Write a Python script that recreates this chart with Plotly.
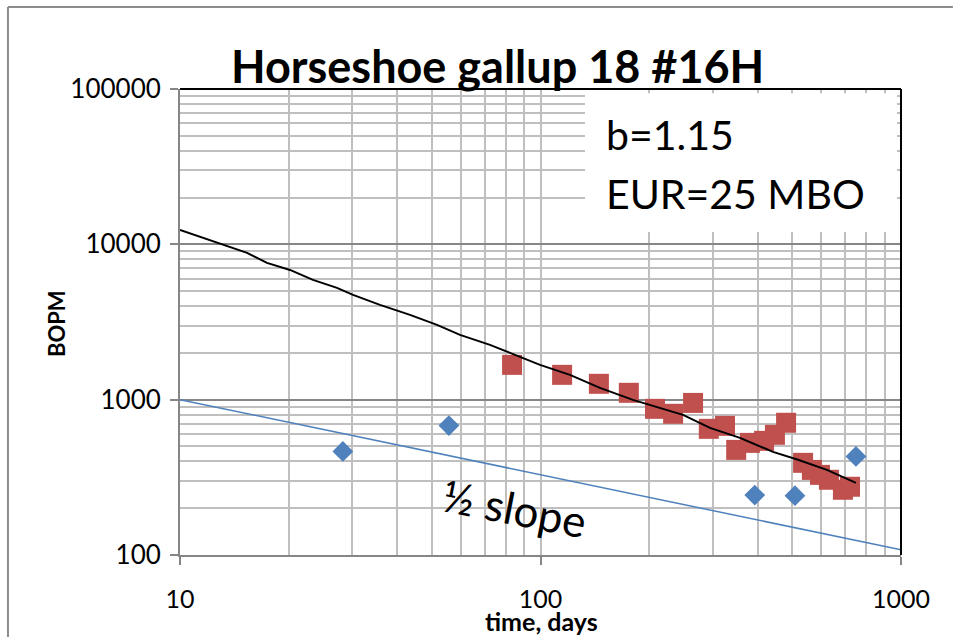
import plotly.graph_objects as go

# ---- data ----
prod_days = [83.4, 114.8, 145.2, 175.8, 207.8, 233.3, 265, 293, 325, 349, 381, 417, 447, 480,
             535, 566, 596, 631, 690, 722]
prod_bopm = [1675, 1445, 1265, 1107, 873, 811, 953, 649, 678, 475, 527, 543, 594, 710,
             392, 353, 328, 305, 263, 275]

other_days = [28.3, 55.7, 393, 508, 750]
other_bopm = [464, 681, 243, 241, 431]

fit_days = [10, 13.16, 15.35, 17.43, 20.19, 23.38, 27.26, 30.2, 35.87, 43.45, 51.64, 59.8,
            72.42, 82.31, 99.7, 120.7, 146.2, 180.5, 248.5, 295.3, 357.5, 441.6, 518, 623, 750]
fit_bopm = [12380, 9911, 8806, 7593, 6843, 5901, 5241, 4724, 4074, 3513, 3029, 2612,
            2252, 2001, 1675, 1444, 1191, 997, 798, 658, 568, 461, 410, 353, 291]

half_days = [10, 1000]
half_bopm = [1000, 108]

x_major = [10, 100, 1000]
y_major = [100, 1000, 10000, 100000]
x_minor = [m * d for d in (10, 100) for m in range(2, 10)]
y_minor = [m * d for d in (100, 1000, 10000) for m in range(2, 10)]

title_text = "Horseshoe gallup 18 #16H"
box_line1 = "b=1.15"
box_line2 = "EUR=25 MBO"
slope_text = "½ slope"
x_title = "time, days"
y_title = "BOPM"

FONT = "Lato"
RED = "#C0504D"
BLUE = "#4F81BD"
GRID = "#BFBFBF"
MAJ = "#868686"

fig = go.Figure()
fig.add_trace(go.Scatter(x=half_days, y=half_bopm, mode="lines",
                         line=dict(color=BLUE, width=1.5), showlegend=False))
fig.add_trace(go.Scatter(x=other_days, y=other_bopm, mode="markers",
                         marker=dict(symbol="diamond", size=16, color=BLUE), showlegend=False))
fig.add_trace(go.Scatter(x=prod_days, y=prod_bopm, mode="markers",
                         marker=dict(symbol="square", size=20, color=RED), showlegend=False))
fig.add_trace(go.Scatter(x=fit_days, y=fit_bopm, mode="lines",
                         line=dict(color="black", width=2), showlegend=False))

fig.update_xaxes(type="log", range=[1, 3], tickmode="array", tickvals=x_major,
                 ticktext=[str(v) for v in x_major],
                 showgrid=True, gridcolor=GRID, gridwidth=2,
                 minor=dict(tickmode="array", tickvals=x_minor, showgrid=True,
                            gridcolor=GRID, gridwidth=2),
                 showline=True, linecolor=MAJ, linewidth=2,
                 ticks="outside", ticklen=8, tickcolor=MAJ, tickwidth=2,
                 ticklabelstandoff=13, automargin=False,
                 tickfont=dict(family=FONT, size=25, color="black"),
                 zeroline=False)
fig.update_yaxes(type="log", range=[2, 5], tickmode="array", tickvals=y_major,
                 ticktext=[str(v) for v in y_major],
                 showgrid=True, gridcolor=MAJ, gridwidth=2,
                 minor=dict(tickmode="array", tickvals=y_minor, showgrid=True,
                            gridcolor=GRID, gridwidth=2),
                 showline=True, linecolor=MAJ, linewidth=2,
                 ticks="outside", ticklen=8, tickcolor=MAJ, tickwidth=2,
                 ticklabelstandoff=4, automargin=False,
                 tickfont=dict(family=FONT, size=26, color="black"),
                 zeroline=False)

fig.update_layout(
    width=953, height=637,
    margin=dict(l=180, r=52, t=89, b=82, autoexpand=False),
    paper_bgcolor="white", plot_bgcolor="white",
    font=dict(family=FONT, color="black"),
    shapes=[
        dict(type="rect", xref="paper", yref="paper", x0=0.5617, x1=0.9945, y0=0.693, y1=0.991,
             fillcolor="white", line=dict(width=0), layer="above"),
        dict(type="rect", xref="paper", yref="paper", x0=1.035, x1=1.1, y0=1.05, y1=1.2,
             fillcolor="white", line=dict(width=0), layer="above"),
        dict(type="line", xref="paper", yref="paper", x0=0, x1=1, y0=1, y1=1,
             line=dict(color="black", width=2), layer="above"),
        dict(type="line", xref="paper", yref="paper", x0=1, x1=1, y0=0, y1=1,
             line=dict(color="black", width=2), layer="above"),
        dict(type="line", xref="paper", yref="paper", x0=-0.2386, x1=1.072, y0=1.176, y1=1.176,
             line=dict(color="#8C8C8C", width=2), layer="above"),
        dict(type="line", xref="paper", yref="paper", x0=-0.2386, x1=-0.2386, y0=-0.2, y1=1.176,
             line=dict(color="#8C8C8C", width=2), layer="above"),
    ],
    annotations=[
        dict(text="<b>" + title_text + "</b>", xref="paper", yref="paper",
             x=0.4397, y=1.05, xanchor="center", yanchor="middle", showarrow=False,
             font=dict(family=FONT, size=45, color="black")),
        dict(text=box_line1, xref="paper", yref="paper", x=0.588, y=0.9034,
             xanchor="left", yanchor="middle", align="left", showarrow=False,
             font=dict(family=FONT, size=41, color="black")),
        dict(text=box_line2, xref="paper", yref="paper", x=0.588, y=0.7768,
             xanchor="left", yanchor="middle", align="left", showarrow=False,
             font=dict(family=FONT, size=41, color="black")),
        dict(text=slope_text, xref="paper", yref="paper", x=0.4646, y=0.1009,
             xanchor="center", yanchor="middle", showarrow=False, textangle=11,
             font=dict(family=FONT, size=44, color="black")),
        dict(text="<b>" + x_title + "</b>", xref="paper", yref="paper",
             x=0.5016, y=-0.1416, xanchor="center", yanchor="middle", showarrow=False,
             font=dict(family=FONT, size=25, color="black")),
        dict(text="<b>" + y_title + "</b>", xref="paper", yref="paper",
             x=-0.1719, y=0.4957, xanchor="center", yanchor="middle", showarrow=False,
             textangle=-90, font=dict(family=FONT, size=22, color="black")),
    ],
)

fig.write_html("out.html", config={"displayModeBar": False},
               post_script="document.body.style.margin='0';"
                           "document.documentElement.style.overflow='hidden';")
